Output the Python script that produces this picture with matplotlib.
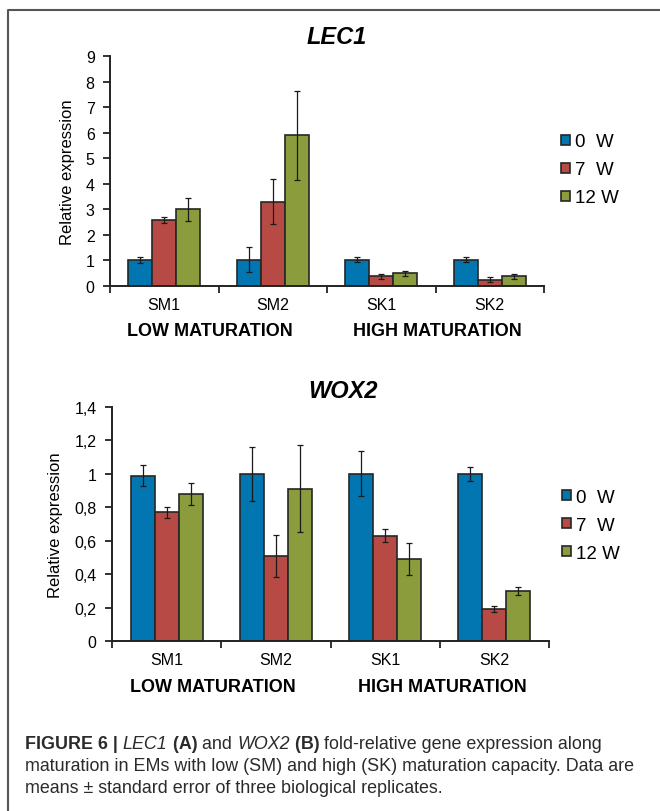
import numpy as np
import matplotlib
matplotlib.use('Agg')
import matplotlib.pyplot as plt
from matplotlib.lines import Line2D

plt.rcParams['font.family'] = ['Liberation Sans', 'DejaVu Sans']

W, H = 660, 812
DPI = 100

categories = ['SM1', 'SM2', 'SK1', 'SK2']
groups = ['LOW MATURATION', 'HIGH MATURATION']
weeks = ['0  W', '7  W', '12 W']
colors = ['#0176B1', '#B84A45', '#8A9C3B']

# LEC1 relative expression (mean, standard error)
lec1_0w = [1.02, 1.03, 1.03, 1.03]
lec1_7w = [2.58, 3.30, 0.38, 0.25]
lec1_12w = [3.00, 5.90, 0.50, 0.38]
lec1_0w_se = [0.13, 0.48, 0.11, 0.10]
lec1_7w_se = [0.12, 0.88, 0.10, 0.10]
lec1_12w_se = [0.45, 1.75, 0.10, 0.10]

# WOX2 relative expression (mean, standard error)
wox2_0w = [0.99, 1.00, 1.00, 1.00]
wox2_7w = [0.77, 0.51, 0.63, 0.19]
wox2_12w = [0.88, 0.91, 0.49, 0.30]
wox2_0w_se = [0.065, 0.16, 0.135, 0.04]
wox2_7w_se = [0.033, 0.125, 0.04, 0.017]
wox2_12w_se = [0.068, 0.26, 0.095, 0.023]

fig = plt.figure(figsize=(W / DPI, H / DPI), dpi=DPI)


def px_axes(left, top, right, bottom):
    return fig.add_axes([left / W, 1 - bottom / H, (right - left) / W, (bottom - top) / H])


def panel(ax, series, errs, ymax, yticks, ylabels, title, title_xy, leg_anchor):
    x = np.arange(len(categories))
    bw = 0.22
    handles = []
    for i, (vals, err) in enumerate(zip(series, errs)):
        b = ax.bar(x + (i - 1) * bw, vals, bw, color=colors[i], edgecolor='#262626',
                   linewidth=1.2, zorder=2)
        ax.errorbar(x + (i - 1) * bw, vals, yerr=err, fmt='none', ecolor='#1a1a1a',
                    elinewidth=0.9, capsize=2.5, capthick=0.9, zorder=3)
        handles.append(b)
    ax.set_xlim(-0.5, len(categories) - 0.5)
    ax.set_ylim(0, ymax)
    ax.set_yticks(yticks)
    ax.set_yticklabels(ylabels)
    ax.set_xticks(np.arange(-0.5, len(categories)), [''] * (len(categories) + 1))
    ax.set_xticks(x, categories, minor=True)
    ax.tick_params(axis='x', which='major', length=5, width=1.3, color='#222222', direction='out')
    ax.tick_params(axis='x', which='minor', length=0, pad=8, labelsize=11.5)
    ax.tick_params(axis='y', length=5, width=1.3, color='#222222', direction='out',
                   labelsize=11.5, pad=6)
    for s in ['top', 'right']:
        ax.spines[s].set_visible(False)
    for s in ['left', 'bottom']:
        ax.spines[s].set_linewidth(1.4)
        ax.spines[s].set_color('#222222')
    ax.set_ylabel('Relative expression', fontsize=12, labelpad=8)
    ax.set_facecolor('none')
    for gx, g in zip([0.42, 2.52], groups):
        ax.text(gx, -0.195, g, transform=ax.get_xaxis_transform(), ha='center', va='center',
                fontsize=13, fontweight='bold')
    fig.text(title_xy[0] / W, 1 - title_xy[1] / H, title, ha='center', va='center',
             fontsize=17, fontweight='bold', fontstyle='italic')
    ax.legend(handles, weeks, loc='center left', bbox_to_anchor=leg_anchor, frameon=False,
              fontsize=13.5, handlelength=0.45, handleheight=0.45, handletextpad=0.3,
              labelspacing=0.58, borderpad=0, borderaxespad=0)


ax1 = px_axes(110, 57, 544, 287)
panel(ax1, [lec1_0w, lec1_7w, lec1_12w], [lec1_0w_se, lec1_7w_se, lec1_12w_se],
      9, range(10), [str(v) for v in range(10)], 'LEC1', (337, 37), (1.04, 0.505))

wox_ticks = np.round(np.arange(0, 1.41, 0.2), 1)
wox_labels = [('%g' % v).replace('.', ',') for v in wox_ticks]
ax2 = px_axes(112, 408, 549, 642)
panel(ax2, [wox2_0w, wox2_7w, wox2_12w], [wox2_0w_se, wox2_7w_se, wox2_12w_se],
      1.4, wox_ticks, wox_labels, 'WOX2', (343, 392), (1.03, 0.495))

# page frame (left and top rules)
fig.add_artist(Line2D([8 / W, 8 / W, 1], [0, 1 - 11 / H, 1 - 11 / H], transform=fig.transFigure,
                      color='#555555', linewidth=1.5))

# caption, written run by run so bold / italic pieces line up
renderer = fig.canvas.get_renderer()
cap_color = '#2b2b2b'
cap_size = 12.9
lines = [
    [('FIGURE 6 | ', 'bold', 'normal'), ('LEC1', 'normal', 'italic'), (' (A)', 'bold', 'normal'),
     (' and ', 'normal', 'normal'), ('WOX2', 'normal', 'italic'), (' (B)', 'bold', 'normal'),
     (' fold-relative gene expression along', 'normal', 'normal')],
    [('maturation in EMs with low (SM) and high (SK) maturation capacity. Data are',
      'normal', 'normal')],
    [('means \u00b1 standard error of three biological replicates.', 'normal', 'normal')],
]
line_y = [745, 767, 789]
for runs, y in zip(lines, line_y):
    xpos = 25
    for txt, weight, style in runs:
        t = fig.text(xpos / W, 1 - y / H, txt, fontsize=cap_size, fontweight=weight,
                     fontstyle=style, color=cap_color, ha='left', va='center')
        xpos += t.get_window_extent(renderer).width

fig.savefig('out.png', dpi=DPI)
